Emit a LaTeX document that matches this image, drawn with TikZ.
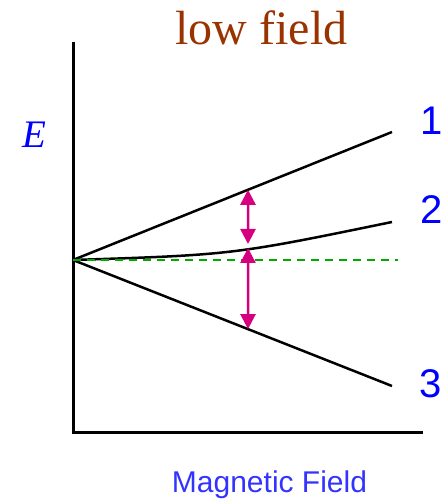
\documentclass[tikz,border=0pt]{standalone}
\usepackage{fontspec}
\setmainfont{Liberation Serif}
\setsansfont{Liberation Sans}
\usepackage{tikz}
\usetikzlibrary{arrows.meta, positioning, calc}
\usepackage{xcolor}
\definecolor{titlebrown}{RGB}{153,51,0}
\definecolor{levelblue}{RGB}{0,0,255}
\definecolor{axisblue}{RGB}{51,51,255}
\definecolor{gapmagenta}{RGB}{214,0,127}
\definecolor{zerogreen}{RGB}{0,170,0}

\tikzset{
  level/.style={line width=2.5pt},
  gap/.style={gapmagenta, line width=2.5pt, {Triangle[length=15pt,width=15pt]}-{Triangle[length=15pt,width=15pt]}},
  lvlabel/.style={levelblue, font=\sffamily\fontsize{40}{40}\selectfont, inner sep=0pt}
}

\begin{document}
\begin{tikzpicture}[x=1pt, y=1pt]
  \useasboundingbox (0,0) rectangle (442,500);
  % axes
  \draw[line width=3pt] (73,458) -- (73,67) -- (423,67);
  \coordinate (O) at (73,240);
  \coordinate (e1) at (392,368);
  \coordinate (e2) at (392,278);
  \coordinate (e3) at (392,114);
  \coordinate (zend) at (398,240);
  % levels
  \draw[level] (O) -- (e1);
  \draw[level] (O) .. controls (232.5,245.2) .. (e2);
  \draw[level] (O) -- (e3);
  \draw[zerogreen, line width=2pt, dash pattern=on 8pt off 6pt] (O) -- (zend);
  % splittings
  \coordinate (p1) at ($(O)!0.5486!(e1)$);
  \coordinate (p2a) at (248,256);
  \coordinate (p2b) at (248,252);
  \coordinate (p3) at ($(O)!0.5486!(e3)$);
  \draw[gap] (p1) -- (p2a);
  \draw[gap] (p2b) -- (p3);
  % labels
  \node[lvlabel] (l1) at (431.5,379) {1};
  \node[lvlabel] (l2) at (431.5,290) {2};
  \node[lvlabel] (l3) at (431,116) {3};
  \node[levelblue, inner sep=0pt, font=\fontsize{39}{39}\selectfont] (E) at (34,365) {\textit{E}};
  \node[titlebrown, anchor=base, inner sep=0pt, font=\fontsize{48}{48}\selectfont] (title) at (261.5,455) {low field};
  \node[axisblue, anchor=base, inner sep=0pt, font=\sffamily\fontsize{30}{30}\selectfont] (xlab) at (269.5,7) {Magnetic Field};
\end{tikzpicture}
\end{document}
